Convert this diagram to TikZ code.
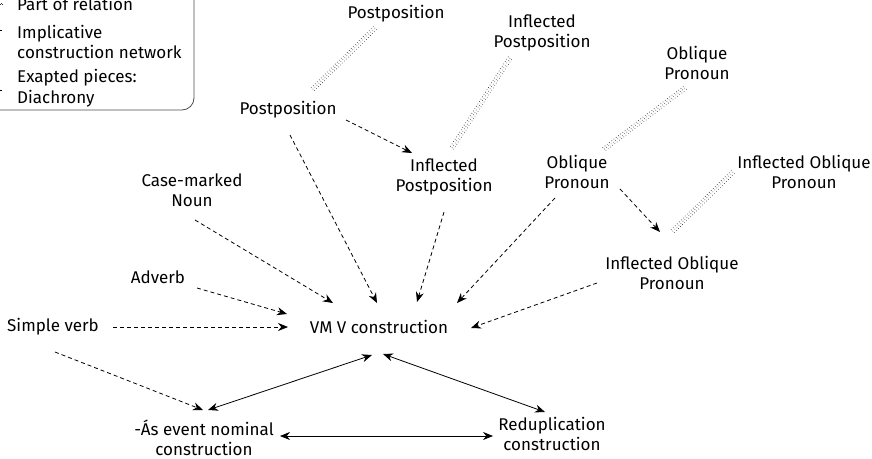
\documentclass[tikz,border=0pt]{standalone}
\usepackage{fontspec}
\setmainfont{Fira Sans}
\usetikzlibrary{arrows.meta}
\begin{document}
\begin{tikzpicture}[x=1pt,y=-1pt,
  lbl/.style={inner sep=0pt,align=center,font=\fontsize{17}{20.5}\selectfont},
  legtxt/.style={inner sep=0pt,align=left,anchor=west,font=\fontsize{17}{20.5}\selectfont},
  impl/.style={draw=black,line width=0.8pt,dash pattern=on 4pt off 3pt,-{Stealth[length=10pt,width=8pt]}},
  diach/.style={draw=black,line width=0.8pt,{Stealth[length=10pt,width=8pt]}-{Stealth[length=10pt,width=8pt]}},
  partof/.style={draw=black!80,line width=0.6pt,dash pattern=on 0.6pt off 2.2pt,
    preaction={draw,line width=0.6pt,dash pattern=on 0.6pt off 2.2pt,transform canvas={shift={(-1.6pt,1.4pt)}}},
    postaction={draw,line width=0.6pt,dash pattern=on 0.6pt off 2.2pt,transform canvas={shift={(1.6pt,-1.4pt)}}}}
]
\useasboundingbox (0,0) rectangle (872,458);

% legend
\draw[black!70,line width=0.8pt,rounded corners=12pt] (-60,-20) rectangle (194,110);
\node[legtxt] (l1) at (17,4) {Part of relation};
\node[legtxt] (l2) at (17,42) {Implicative\\construction network};
\node[legtxt] (l3) at (17,88) {Exapted pieces:\\Diachrony};
\coordinate (s1a) at (-30,3); \coordinate (s1b) at (2,3);
\coordinate (s2a) at (-30,30); \coordinate (s2b) at (2,30);
\coordinate (s3a) at (-30,90); \coordinate (s3b) at (2,90);
\draw[partof] (s1a) -- (s1b);
\draw[black,line width=0.8pt,dash pattern=on 4pt off 3pt] (s2a) -- (s2b);
\draw[black,line width=0.8pt] (s3a) -- (s3b);

% nodes
\node[lbl] (pt)   at (396,14)  {Postposition};
\node[lbl] (ipt)  at (542,33)  {Inflected\\Postposition};
\node[lbl] (opt)  at (697,63)  {Oblique\\Pronoun};
\node[lbl] (pm)   at (288,110) {Postposition};
\node[lbl] (ipm)  at (444,177) {Inflected\\Postposition};
\node[lbl] (opm)  at (577,172) {Oblique\\Pronoun};
\node[lbl] (iopr) at (804,172) {Inflected Oblique\\Pronoun};
\node[lbl] (cmn)  at (192,190) {Case-marked\\Noun};
\node[lbl] (iopl) at (672,273) {Inflected Oblique\\Pronoun};
\node[lbl] (adv)  at (158,277) {Adverb};
\node[lbl] (sv)   at (53,327)  {Simple verb};
\node[lbl] (vmv)  at (379,327) {VM V construction};
\node[lbl] (as)   at (204,438) {-Ás event nominal\\construction};
\node[lbl] (red)  at (552,434) {Reduplication\\construction};

% part-of relations
\draw[partof] ([shift={(-21,14)}]pt.center) -- ([shift={(24,-20)}]pm.center);
\draw[partof] ([shift={(-32,25)}]ipt.center) -- ([shift={(8,-29)}]ipm.center);
\draw[partof] ([shift={(-12,25)}]opt.center) -- ([shift={(26,-22)}]opm.center);
\draw[partof] ([shift={(-71,0)}]iopr.center) -- ([shift={(0,-41)}]iopl.center);

% implicative network
\draw[impl] ([shift={(58,10)}]pm.center) -- ([shift={(-32,-24)}]ipm.center);
\draw[impl] ([shift={(2,25)}]pm.center) -- ([shift={(-2,-24)}]vmv.center);
\draw[impl] ([shift={(0,35)}]ipm.center) -- ([shift={(38,-25)}]vmv.center);
\draw[impl] ([shift={(3,30)}]cmn.center) -- ([shift={(-46,-24)}]vmv.center);
\draw[impl] ([shift={(39,11)}]adv.center) -- ([shift={(-92,-13)}]vmv.center);
\draw[impl] ([shift={(60,0)}]sv.center) -- ([shift={(-91,0)}]vmv.center);
\draw[impl] ([shift={(2,25)}]sv.center) -- ([shift={(-1,-28)}]as.center);
\draw[impl] ([shift={(-22,26)}]opm.center) -- ([shift={(78,-24)}]vmv.center);
\draw[impl] ([shift={(43,17)}]opm.center) -- ([shift={(-12,-41)}]iopl.center);
\draw[impl] ([shift={(-75,10)}]iopl.center) -- ([shift={(92,1)}]vmv.center);

% diachrony
\draw[diach] ([shift={(4,-28)}]as.center) -- ([shift={(-7,28)}]vmv.center);
\draw[diach] ([shift={(4,27)}]vmv.center) -- ([shift={(-7,-22)}]red.center);
\draw[diach] ([shift={(76,-2)}]as.center) -- ([shift={(-59,2)}]red.center);
\end{tikzpicture}
\end{document}
